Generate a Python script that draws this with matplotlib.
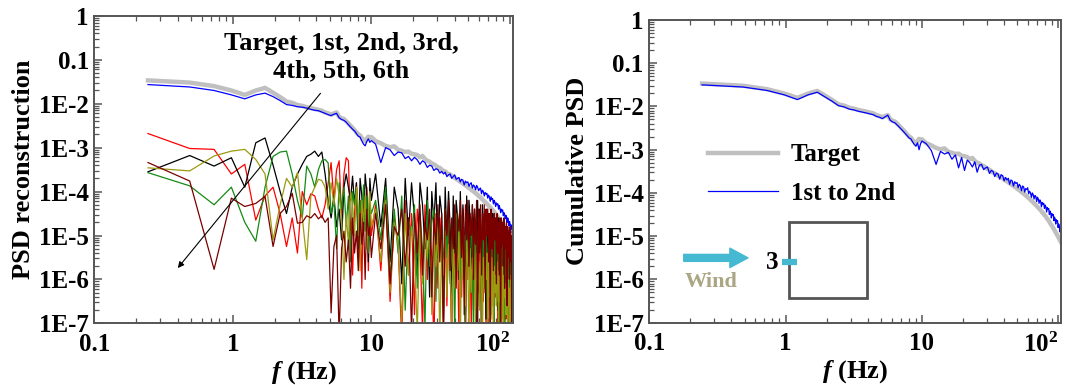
import matplotlib

matplotlib.use("Agg")
import matplotlib.pyplot as plt
import numpy as np
from matplotlib.patches import Rectangle
from matplotlib.ticker import LogLocator, NullFormatter

plt.rcParams["font.family"] = ["Liberation Serif", "DejaVu Serif"]
plt.rcParams["font.weight"] = "bold"
plt.rcParams["axes.labelweight"] = "bold"
plt.rcParams["mathtext.fontset"] = "custom"
plt.rcParams["mathtext.rm"] = "Liberation Serif:bold"
plt.rcParams["mathtext.bf"] = "Liberation Serif:bold"
plt.rcParams["mathtext.it"] = "Liberation Serif:italic:bold"

# spectrum bins: every bin up to 10 Hz, then every 4th bin up to ~105 Hz
DF = 0.2441
bins = np.concatenate([np.arange(1, 42), np.arange(44, 436, 4)])
freq = DF * bins

# all series as log10(PSD); first 41 values = bins 1..41, then 98 coarser bins
target = [
    -1.47, -1.52, -1.60, -1.70, -1.80, -1.70, -1.64, -1.75, -1.85, -1.95,
    -1.98, -2.03, -2.05, -2.08, -2.10, -2.12, -2.14, -2.16, -2.20, -2.22,
    -2.25, -2.22, -2.20, -2.30, -2.33, -2.35, -2.40, -2.45, -2.50, -2.55,
    -2.60, -2.65, -2.70, -2.72, -2.78, -2.82, -2.85, -2.80, -2.75, -2.78, -2.76,
    -2.85, -2.90, -2.96, -2.99, -2.97, -3.05, -3.07, -3.10, -3.09, -3.14,
    -3.15, -3.17, -3.22, -3.19, -3.26, -3.30, -3.32, -3.36, -3.38, -3.41,
    -3.45, -3.46, -3.50, -3.53, -3.54, -3.58, -3.60, -3.61, -3.64, -3.66,
    -3.69, -3.71, -3.73, -3.75, -3.78, -3.79, -3.82, -3.83, -3.86, -3.87,
    -3.90, -3.92, -3.93, -3.96, -3.98, -3.99, -4.02, -4.03, -4.06, -4.07,
    -4.10, -4.12, -4.13, -4.16, -4.18, -4.20, -4.22, -4.24, -4.26, -4.28,
    -4.30, -4.32, -4.34, -4.36, -4.38, -4.40, -4.42, -4.45, -4.46, -4.49,
    -4.51, -4.53, -4.55, -4.58, -4.60, -4.62, -4.64, -4.67, -4.69, -4.72,
    -4.74, -4.76, -4.79, -4.81, -4.84, -4.86, -4.89, -4.91, -4.94, -4.96,
    -4.99, -5.01, -5.04, -5.06, -5.09, -5.11, -5.14, -5.16,
]
mode1 = [
    -1.565, -1.62, -1.70, -1.80, -1.89, -1.80, -1.76, -1.84, -1.93, -2.02,
    -2.04, -2.07, -2.08, -2.10, -2.13, -2.15, -2.16, -2.19, -2.22, -2.25,
    -2.27, -2.24, -2.22, -2.32, -2.36, -2.38, -2.42, -2.48, -2.53, -2.58,
    -2.62, -2.68, -2.74, -2.76, -2.85, -2.92, -2.96, -2.86, -2.80, -2.88, -2.84,
    -2.92, -3.34, -3.00, -3.05, -3.18, -3.10, -3.12, -3.25, -3.20, -3.30,
    -3.22, -3.28, -3.38, -3.30, -3.34, -3.45, -3.40, -3.42, -3.52, -3.48,
    -3.50, -3.58, -3.54, -3.60, -3.56, -3.66, -3.62, -3.60, -3.70, -3.66,
    -3.62, -3.72, -3.70, -3.68, -3.78, -3.72, -3.74, -3.85, -3.76, -3.80,
    -3.78, -3.88, -3.82, -3.80, -3.92, -3.85, -3.88, -3.96, -3.86, -3.90,
    -3.98, -3.94, -3.92, -4.05, -3.97, -4.00, -4.10, -4.02, -4.06, -4.04,
    -4.15, -4.08, -4.12, -4.22, -4.12, -4.18, -4.16, -4.28, -4.20, -4.24,
    -4.34, -4.26, -4.30, -4.28, -4.40, -4.32, -4.38, -4.48, -4.40, -4.44,
    -4.42, -4.55, -4.48, -4.52, -4.62, -4.54, -4.58, -4.70, -4.60, -4.66,
    -4.78, -4.68, -4.74, -4.86, -4.76, -4.80, -4.95, -4.86,
]
mode2 = [
    -2.68, -3.02, -3.04, -3.60, -3.38, -4.65, -4.10, -3.90, -4.50, -5.25,
    -4.60, -5.40, -4.00, -4.30, -4.05, -4.10, -4.40, -4.60, -4.30, -3.80,
    -3.34, -4.20, -3.50, -3.30, -4.60, -3.60, -3.23, -3.30, -4.80, -5.90,
    -4.50, -3.80, -5.50, -4.20, -6.20, -4.00, -4.60, -3.90, -5.80, -4.40, -5.00,
    -4.3, -5.8, -4.1, -6.5, -4.6, -5.2, -7.4, -4.2, -5.9, -4.5,
    -6.8, -4.4, -5.1, -7.2, -4.3, -6.0, -4.8, -5.5, -7.6, -4.5,
    -6.2, -4.6, -5.3, -7.0, -4.4, -6.6, -4.9, -5.7, -7.5, -4.6,
    -6.1, -4.7, -5.4, -7.3, -4.5, -6.4, -4.8, -5.9, -7.8, -4.7,
    -6.0, -4.6, -5.6, -7.1, -4.9, -6.7, -4.7, -5.3, -7.4, -4.8,
    -6.3, -4.7, -5.8, -7.6, -4.9, -6.5, -5.0, -5.5, -7.2, -4.8,
    -6.2, -4.9, -5.9, -7.7, -5.0, -6.6, -4.9, -5.6, -7.3, -5.1,
    -6.4, -5.0, -5.8, -7.5, -5.1, -6.8, -5.0, -5.7, -7.4, -5.2,
    -6.3, -5.1, -6.0, -7.9, -5.2, -6.9, -5.1, -5.8, -7.6, -5.3,
    -6.5, -5.2, -6.1, -7.7, -5.3, -6.7, -5.4, -7.0,
]
mode3 = [
    -3.55, -3.18, -3.42, -3.23, -3.90, -2.89, -2.78, -3.40, -4.00, -4.50,
    -3.90, -3.60, -3.38, -3.20, -3.15, -3.08, -3.20, -3.10, -3.60, -4.20,
    -4.60, -4.10, -4.80, -4.40, -5.10, -3.90, -3.60, -3.90, -4.20, -3.65,
    -4.30, -3.80, -5.30, -3.70, -4.10, -4.90, -3.60, -4.00, -5.60, -3.70, -4.20,
    -3.6, -4.8, -3.7, -5.6, -3.9, -4.4, -6.1, -3.7, -5.0, -3.8,
    -4.6, -5.9, -3.8, -4.3, -5.3, -3.9, -6.4, -4.0, -4.7, -3.8,
    -5.5, -4.1, -4.5, -6.2, -3.9, -5.1, -4.0, -4.8, -6.6, -4.1,
    -5.4, -4.2, -4.6, -6.0, -4.0, -5.2, -4.3, -4.9, -6.8, -4.1,
    -5.7, -4.2, -4.7, -6.3, -4.3, -5.0, -4.4, -5.5, -7.1, -4.2,
    -5.3, -4.4, -4.8, -6.5, -4.3, -5.6, -4.5, -5.1, -6.9, -4.4,
    -5.4, -4.5, -5.0, -6.4, -4.6, -5.8, -4.5, -5.2, -7.2, -4.6,
    -5.5, -4.7, -5.0, -6.7, -4.6, -5.9, -4.8, -5.3, -7.0, -4.7,
    -5.6, -4.8, -5.2, -6.6, -4.9, -6.0, -4.8, -5.4, -7.3, -4.9,
    -5.7, -5.0, -5.3, -6.8, -5.0, -6.1, -5.1, -5.6,
]
mode4 = [
    -3.57, -3.87, -4.30, -3.90, -4.70, -5.13, -3.90, -3.20, -3.10, -3.08,
    -3.60, -4.20, -4.60, -3.42, -3.60, -3.90, -3.50, -3.30, -3.27, -3.35,
    -4.50, -4.20, -5.30, -3.80, -4.40, -3.90, -4.80, -4.10, -5.60, -4.00,
    -4.30, -3.90, -5.00, -4.20, -4.60, -3.85, -4.90, -4.10, -5.40, -4.30, -4.50,
    -4.2, -5.1, -3.9, -6.0, -4.4, -5.4, -4.1, -6.7, -4.6, -5.0,
    -4.3, -6.2, -4.5, -5.3, -7.1, -4.2, -5.7, -4.7, -4.4, -6.5,
    -4.5, -5.2, -4.8, -6.9, -4.4, -5.5, -4.6, -6.1, -4.9, -5.0,
    -7.3, -4.5, -5.8, -4.7, -6.4, -4.6, -5.3, -5.0, -7.0, -4.7,
    -5.6, -4.8, -6.3, -4.6, -5.1, -7.4, -4.8, -5.9, -4.9, -6.6,
    -4.7, -5.4, -5.0, -7.2, -4.9, -5.7, -4.8, -6.2, -5.0, -5.3,
    -7.5, -4.9, -6.0, -5.1, -6.8, -4.9, -5.5, -5.2, -7.1, -5.0,
    -5.8, -5.1, -6.5, -5.0, -5.4, -7.6, -5.2, -6.1, -5.3, -6.9,
    -5.1, -5.6, -5.3, -7.3, -5.2, -5.9, -5.4, -6.4, -5.3, -5.7,
    -7.7, -5.4, -6.2, -5.5, -7.0, -5.5, -5.8, -6.6,
]
mode5 = [
    -3.46, -3.53, -3.19, -3.08, -3.04, -3.27, -3.60, -5.10, -4.30, -3.70,
    -3.90, -3.57, -4.60, -5.55, -4.10, -3.90, -3.72, -3.75, -3.90, -4.40,
    -3.80, -4.30, -3.70, -4.10, -4.60, -6.00, -4.50, -5.20, -4.00, -4.30,
    -5.00, -3.90, -4.40, -5.80, -4.20, -4.70, -4.10, -5.30, -4.50, -4.00, -4.80,
    -4.4, -5.6, -4.2, -6.3, -4.7, -5.2, -6.98, -4.5, -5.9, -4.8,
    -5.4, -7.2, -4.6, -6.1, -4.9, -5.5, -4.7, -6.8, -5.0, -5.7,
    -4.8, -7.4, -5.1, -5.9, -4.9, -6.4, -5.2, -5.6, -7.1, -5.0,
    -6.2, -5.3, -5.8, -4.9, -7.5, -5.2, -6.0, -5.4, -6.6, -5.1,
    -5.7, -7.3, -5.3, -6.3, -5.5, -5.9, -5.2, -7.0, -5.4, -6.1,
    -5.6, -6.7, -5.3, -5.8, -7.6, -5.5, -6.2, -5.7, -6.0, -5.4,
    -7.2, -5.6, -6.4, -5.8, -6.9, -5.5, -6.1, -7.5, -5.7, -6.3,
    -5.9, -6.6, -5.6, -6.0, -7.3, -5.8, -6.5, -6.0, -7.0, -5.7,
    -6.2, -7.7, -5.9, -6.4, -6.1, -6.8, -5.8, -6.3, -7.4, -6.0,
    -6.6, -6.2, -7.1, -5.9, -6.5, -7.8, -6.1, -6.7,
]
mode6 = [
    -3.34, -3.76, -5.77, -4.15, -4.34, -4.27, -4.11, -5.25, -4.50, -4.34,
    -4.04, -4.72, -4.70, -4.55, -4.60, -4.50, -4.62, -4.55, -4.70, -4.60,
    -6.76, -5.25, -5.00, -7.30, -5.30, -4.90, -5.60, -5.10, -6.20, -4.60,
    -5.40, -4.90, -5.80, -4.50, -5.20, -4.70, -6.00, -4.40, -5.00, -4.80, -5.50,
    -4.5, -5.3, -4.3, -6.1, -4.8, -5.0, -4.4, -5.7, -4.6, -7.2,
    -4.5, -5.4, -4.3, -5.9, -4.7, -5.1, -4.4, -6.4, -4.6, -5.2,
    -4.3, -5.6, -4.5, -7.5, -4.4, -5.0, -4.2, -5.8, -4.6, -5.3,
    -4.3, -6.2, -4.5, -4.9, -4.2, -5.5, -4.4, -6.8, -4.3, -5.1,
    -4.2, -5.7, -4.5, -5.0, -4.3, -6.0, -4.4, -5.2, -4.2, -7.3,
    -4.4, -5.4, -4.3, -5.9, -4.5, -5.1, -4.3, -6.3, -4.4, -5.0,
    -4.4, -5.6, -4.5, -7.0, -4.4, -5.3, -4.6, -5.8, -4.5, -5.1,
    -4.6, -6.1, -4.5, -5.4, -4.7, -5.9, -4.6, -7.4, -4.6, -5.2,
    -4.7, -5.7, -4.6, -6.2, -4.8, -5.3, -4.7, -6.6, -4.8, -5.5,
    -4.9, -6.0, -4.8, -5.6, -5.0, -7.6, -4.9, -5.8,
]
cumul12 = [
    -1.50, -1.55, -1.63, -1.73, -1.84, -1.73, -1.67, -1.78, -1.88, -1.98,
    -2.01, -2.06, -2.08, -2.11, -2.13, -2.15, -2.17, -2.19, -2.23, -2.25,
    -2.28, -2.24, -2.20, -2.32, -2.36, -2.38, -2.43, -2.48, -2.53, -2.58,
    -2.63, -2.68, -2.73, -2.75, -2.82, -2.88, -2.92, -2.84, -3.00, -2.86, -2.80,
    -2.86, -3.02, -3.34, -3.04, -3.10, -3.06, -3.22, -3.12, -3.42, -3.18,
    -3.48, -3.24, -3.30, -3.40, -3.28, -3.52, -3.36, -3.34, -3.46, -3.42,
    -3.40, -3.55, -3.48, -3.50, -3.62, -3.54, -3.56, -3.68, -3.58, -3.60,
    -3.72, -3.64, -3.70, -3.66, -3.80, -3.70, -3.72, -3.84, -3.74, -3.78,
    -3.76, -3.88, -3.80, -3.84, -3.95, -3.84, -3.86, -3.98, -3.90, -3.92,
    -3.88, -4.02, -3.96, -4.00, -4.10, -4.00, -4.04, -4.14, -4.06, -4.08,
    -4.20, -4.10, -4.14, -4.24, -4.16, -4.20, -4.32, -4.22, -4.26, -4.24,
    -4.36, -4.28, -4.32, -4.44, -4.34, -4.38, -4.36, -4.50, -4.42, -4.46,
    -4.58, -4.48, -4.52, -4.50, -4.64, -4.56, -4.60, -4.72, -4.62, -4.66,
    -4.64, -4.80, -4.72, -4.76, -4.90, -4.80, -4.84, -4.86,
]

modes = [mode2, mode3, mode4, mode5, mode6]
mode_colors = ["#ff0000", "#000000", "#138a13", "#9c9a10", "#7a0000"]

ytick_vals = [1e-7, 1e-6, 1e-5, 1e-4, 1e-3, 1e-2, 1e-1, 1]
ytick_labels = ["1E-7", "1E-6", "1E-5", "1E-4", "1E-3", "1E-2", "0.1", "1"]
xtick_vals = [0.1, 1, 10, 100]
xtick_labels = ["0.1", "1", "10", r"$\mathbf{10^2}$"]

SPINE = "#555555"


def style_axes(ax, ylabel, xmax):
    ax.set_xscale("log")
    ax.set_yscale("log")
    ax.set_xlim(0.1, xmax)
    ax.set_ylim(1e-7, 1)
    ax.set_xticks(xtick_vals)
    ax.set_xticklabels(xtick_labels)
    ax.get_xticklabels()[-1].set_horizontalalignment("right")
    ax.set_yticks(ytick_vals)
    ax.set_yticklabels(ytick_labels)
    ax.xaxis.set_minor_locator(LogLocator(10, subs=np.arange(2, 10), numticks=50))
    ax.yaxis.set_minor_locator(LogLocator(10, subs=np.arange(2, 10), numticks=50))
    ax.xaxis.set_minor_formatter(NullFormatter())
    ax.yaxis.set_minor_formatter(NullFormatter())
    ax.tick_params(which="both", direction="in", top=True, right=False,
                   color=SPINE, labelsize=18)
    ax.tick_params(which="major", length=6, width=1.1)
    ax.tick_params(which="minor", length=3.5, width=0.9)
    ax.tick_params(axis="x", pad=7)
    ax.tick_params(axis="y", pad=4)
    for sp in ax.spines.values():
        sp.set_color(SPINE)
        sp.set_linewidth(1.4)
    ax.set_xlabel(r"$f$ (Hz)", fontsize=19, labelpad=1)
    ax.set_ylabel(ylabel, fontsize=19, labelpad=3)


fig = plt.figure(figsize=(10.66, 3.85), dpi=100)

# left panel: PSD reconstruction of each mode
ax1 = fig.add_axes([0.0885, 0.160, 0.393, 0.799])
ax1.plot(freq, 10 ** np.array(target), color="#c0c0c0", lw=3.2)
ax1.plot(freq, 10 ** np.array(mode1), color="#0000ff", lw=0.9)
for vals, c in zip(modes, mode_colors):
    ax1.plot(freq, 10 ** np.array(vals), color=c, lw=0.9)
style_axes(ax1, "PSD reconstruction", 106)
ax1.text(0.589, 0.866, "Target, 1st, 2nd, 3rd,\n4th, 5th, 6th", transform=ax1.transAxes,
         ha="center", va="center", fontsize=19, linespacing=1.25)
ax1.annotate("", xy=(0.195, 0.173), xytext=(0.544, 0.755), xycoords="axes fraction",
             arrowprops=dict(arrowstyle="-|>", color="black", lw=0.8, mutation_scale=9))

# right panel: cumulative PSD
ax2 = fig.add_axes([0.609, 0.162, 0.386, 0.786])
ax2.plot(freq, 10 ** np.array(target), color="#c0c0c0", lw=3.2, label="Target")
ax2.plot(freq, 10 ** np.array(cumul12), color="#0000ff", lw=0.9, label="1st to 2nd")
style_axes(ax2, "Cumulative PSD", 104)
ax2.legend(loc="upper left", bbox_to_anchor=(0.088, 0.667), frameon=False,
           fontsize=18, handlelength=2.8, handletextpad=0.52, labelspacing=0.62)

# wind direction sketch
CYAN = "#45b8d2"
ax2.annotate("", xy=(0.24, 0.214), xytext=(0.084, 0.214), xycoords="axes fraction",
             arrowprops=dict(arrowstyle="simple,head_length=1.3,head_width=1.4,tail_width=0.5",
                             color=CYAN, mutation_scale=10, shrinkA=0, shrinkB=0))
ax2.text(0.150, 0.133, "Wind", transform=ax2.transAxes, ha="center", va="center",
         fontsize=16, color="#aaa684")
ax2.add_patch(Rectangle((0.339, 0.081), 0.19, 0.252, transform=ax2.transAxes,
                        fill=False, edgecolor="#555555", lw=2))
ax2.plot([0.322, 0.359], [0.2, 0.2], transform=ax2.transAxes, color=CYAN, lw=4.5,
         solid_capstyle="butt")
ax2.text(0.298, 0.2, "3", transform=ax2.transAxes, ha="center", va="center", fontsize=18)

fig.savefig("out.png", dpi=100)
